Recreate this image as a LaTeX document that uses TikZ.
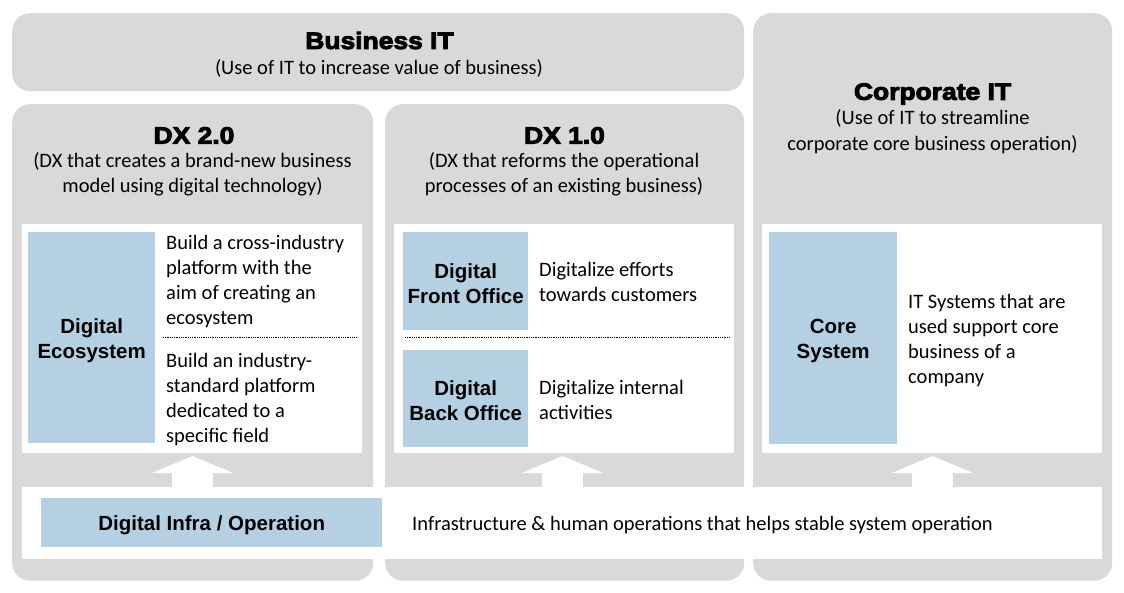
\documentclass[tikz,border=0pt]{standalone}
\usepackage{fontspec}
\setmainfont{Carlito}
\newfontfamily\labfont{Liberation Sans}
\newfontfamily\heavyfont{Liberation Sans}[BoldFeatures={FakeBold=4,FakeStretch=1.12}]
\definecolor{panelgray}{HTML}{D9D9D9}
\definecolor{tagblue}{HTML}{B5D0E2}
\begin{document}
\begin{tikzpicture}[x=1pt,y=-1pt,
  panel/.style={fill=panelgray, draw=none, rounded corners=18pt, inner sep=0pt, anchor=north west},
  whitebox/.style={fill=white, draw=none, inner sep=0pt, anchor=north west},
  tagbox/.style={fill=tagblue, draw=none, inner sep=0pt, anchor=north west},
  title/.style={inner sep=0pt, font=\heavyfont\bfseries\fontsize{23.6pt}{26pt}\selectfont},
  subtitle/.style={inner sep=0pt, align=center, yshift=-1.5pt, font=\fontsize{20.5pt}{25.5pt}\selectfont},
  body/.style={inner sep=0pt, align=left, anchor=west, yshift=-2pt, font=\fontsize{20.5pt}{25pt}\selectfont},
  tagtext/.style={inner sep=0pt, align=center, yshift=-2.5pt, font=\labfont\bfseries\fontsize{20.5pt}{25pt}\selectfont},
  sepline/.style={draw=black, line width=0.9pt, dash pattern=on 0.9pt off 0.9pt},
  uparrow/.pic={\fill[white] (-20.3,1) -- (-20.3,-14) -- (-40.7,-14) -- (0,-31) -- (40.7,-14) -- (20.3,-14) -- (20.3,1) -- cycle;}
]
\useasboundingbox (0,0) rectangle (1124,592);
\fill[white] (0,0) rectangle (1124,592);

% panels
\node[panel, minimum width=732pt, minimum height=78pt] (bizpanel) at (12,13) {};
\node[panel, minimum width=359pt, minimum height=567.5pt] (corppanel) at (753,13) {};
\node[panel, minimum width=361pt, minimum height=476.5pt] (dxtwopanel) at (12,104) {};
\node[panel, minimum width=359pt, minimum height=476.5pt] (dxonepanel) at (385,104) {};

% white boxes
\node[whitebox, minimum width=339.5pt, minimum height=229pt] (wtwo) at (22,224) {};
\node[whitebox, minimum width=340pt, minimum height=229pt] (wone) at (394,224) {};
\node[whitebox, minimum width=340pt, minimum height=229pt] (wcorp) at (762,224) {};
\node[whitebox, minimum width=1080pt, minimum height=71.5pt] (band) at (22,487) {};

% arrows from band up to boxes
\coordinate (aone) at (192.5,487);
\coordinate (atwo) at (562.5,487);
\coordinate (athree) at (932.5,487);
\pic at (aone) {uparrow};
\pic at (atwo) {uparrow};
\pic at (athree) {uparrow};

% titles
\node[title] (biztitle) at (379.5,40.5) {Business IT};
\node[subtitle] (bizsub) at (379,67) {(Use of IT to increase value of business)};
\node[title] (corptitle) at (932.5,94) {Corporate IT};
\node[subtitle] (corpsub) at (932.5,130) {(Use of IT to streamline\\corporate core business operation)};
\node[title] (dxtwotitle) at (194,135.5) {DX 2.0};
\node[subtitle] (dxtwosub) at (192.5,173) {(DX that creates a brand-new business\\model using digital technology)};
\node[title] (dxonetitle) at (564.5,135.5) {DX 1.0};
\node[subtitle] (dxonesub) at (564,173) {(DX that reforms the operational\\processes of an existing business)};

% blue tags
\node[tagbox, minimum width=127pt, minimum height=211pt] (ecobox) at (28,232) {};
\node[tagtext] (ecotext) at (ecobox.center) {Digital\\Ecosystem};
\node[tagbox, minimum width=125pt, minimum height=98pt] (frontbox) at (403,232) {};
\node[tagtext] (fronttext) at (frontbox.center) {Digital\\Front Office};
\node[tagbox, minimum width=125pt, minimum height=96.5pt] (backbox) at (403,350) {};
\node[tagtext] (backtext) at (backbox.center) {Digital\\Back Office};
\node[tagbox, minimum width=128pt, minimum height=212pt] (corebox) at (769,232) {};
\node[tagtext] (coretext) at (corebox.center) {Core\\System};
\node[tagbox, minimum width=341pt, minimum height=48.5pt] (infrabox) at (41,498) {};
\node[tagtext] (infratext) at (infrabox.center) {Digital Infra / Operation};

% descriptions
\node[body] (ecoone) at (166,280) {Build a cross-industry\\platform with the\\aim of creating an\\ecosystem};
\node[body] (ecotwo) at (166,398) {Build an industry-\\standard platform\\dedicated to a\\specific field};
\node[body] (frontdesc) at (539,280) {Digitalize efforts\\towards customers};
\node[body] (backdesc) at (539,398) {Digitalize internal\\activities};
\node[body] (coredesc) at (908,339) {IT Systems that are\\used support core\\business of a\\company};
\node[body] (infradesc) at (412,523) {Infrastructure \& human operations that helps stable system operation};

% dotted separators
\coordinate (sepa) at (163,337.5);
\coordinate (sepb) at (357,337.5);
\coordinate (sepc) at (405,337.5);
\coordinate (sepd) at (730,337.5);
\draw[sepline] (sepa) -- (sepb);
\draw[sepline] (sepc) -- (sepd);
\end{tikzpicture}
\end{document}
